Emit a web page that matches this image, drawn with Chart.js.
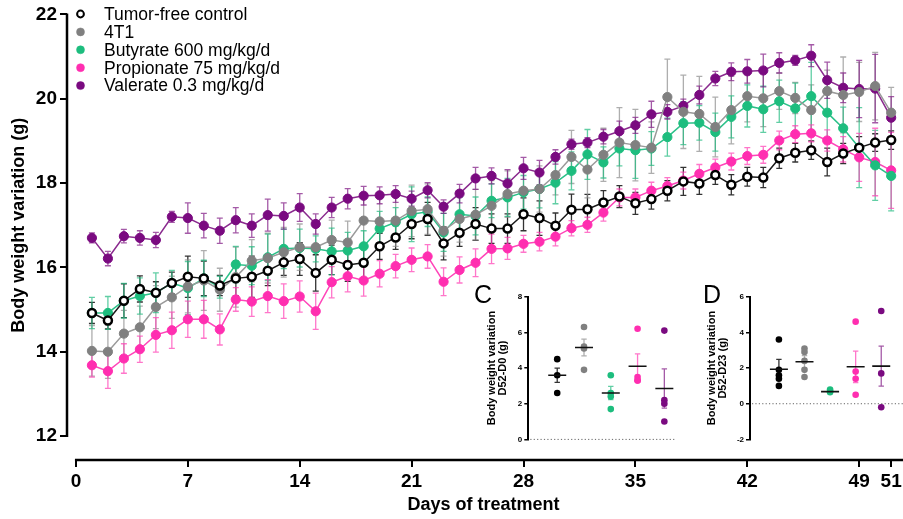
<!DOCTYPE html>
<html>
<head>
<meta charset="utf-8">
<title>Body weight variation</title>
<script src="https://cdn.jsdelivr.net/npm/chart.js@4.4.1/dist/chart.umd.min.js"></script>
<style>
  html, body { margin: 0; padding: 0; background: #fff; overflow: hidden; }
  #wrap { position: relative; width: 960px; height: 519px; }
  canvas { position: absolute; }
  .panel { position: absolute; font: 25px "Liberation Sans", Arial, sans-serif; color: #000; line-height: 1; }
</style>
</head>
<body>
<div id="wrap">
  <canvas id="weightChart" width="960" height="519" style="left:0;top:0"></canvas>
  <canvas id="insetC" width="215" height="170" style="left:472px;top:280px"></canvas>
  <canvas id="insetD" width="240" height="170" style="left:692px;top:280px"></canvas>
  <div class="panel" style="left:474px;top:282px">C</div>
  <div class="panel" style="left:703px;top:282px">D</div>
</div>
<script>
// ---- main panel data (body weight, g, mean and SEM per day) ----
const days = [1, 2, 3, 4, 5, 6, 7, 8, 9, 10, 11, 12, 13, 14, 15, 16, 17, 18, 19, 20,
  21, 22, 23, 24, 25, 26, 27, 28, 29, 30, 31, 32, 33, 34, 35, 36, 37, 38, 39, 40,
  41, 42, 43, 44, 45, 46, 47, 48, 49, 50, 51];
const xTicks = [0, 7, 14, 21, 28, 35, 42, 49, 51];
const yTicks = [12, 14, 16, 18, 20, 22];
const seriesNames = ["Tumor-free control", "4T1", "Butyrate 600 mg/kg/d", "Propionate 75 mg/kg/d", "Valerate 0.3 mg/kg/d"];

const tumorFree = [14.92, 14.74, 15.21, 15.49, 15.40, 15.63, 15.78, 15.74, 15.57, 15.74, 15.78,
  15.92, 16.12, 16.20, 15.87, 16.18, 16.06, 16.11, 16.50, 16.71, 17.03, 17.15,
  16.57, 16.82, 17.03, 16.92, 16.92, 17.26, 17.17, 16.99, 17.37, 17.38,
  17.54, 17.68, 17.52, 17.62, 17.82, 18.04, 17.99, 18.19, 17.96,
  18.15, 18.13, 18.59, 18.72, 18.78, 18.50, 18.70, 18.84, 18.96, 19.02];
const tumorFreeSem = [0.25, 0.2, 0.4, 0.31, 0.26, 0.26, 0.49, 0.41, 0.24, 0.41, 0.49,
  0.35, 0.31, 0.39, 0.43, 0.35, 0.39, 0.45, 0.31, 0.28, 0.35, 0.39,
  0.39, 0.32, 0.39, 0.35, 0.35, 0.39, 0.41, 0.3, 0.37, 0.35,
  0.28, 0.26, 0.26, 0.24, 0.24, 0.33, 0.26, 0.22, 0.24,
  0.22, 0.24, 0.24, 0.22, 0.22, 0.33, 0.24, 0.26, 0.21, 0.22];

const tumor4T1 = [14.02, 14.00, 14.43, 14.58, 15.06, 15.29, 15.55, 15.69, 15.47, 15.77, 16.16,
  16.22, 16.36, 16.48, 16.48, 16.65, 16.59, 17.11, 17.09, 17.11, 17.34, 17.38,
  16.87, 17.15, 17.25, 17.46, 17.74, 17.82, 17.86, 18.19, 18.62, 18.32,
  18.67, 18.96, 18.90, 18.84, 20.04, 19.69, 19.64, 19.33, 19.73,
  20.06, 20.01, 20.18, 20.02, 19.73, 20.18, 20.09, 20.16, 20.30, 19.67];
const tumor4T1Sem = [0.6, 0.63, 0.55, 0.5, 0.51, 0.5, 0.63, 0.71, 0.51, 0.71, 0.5,
  0.59, 0.59, 0.55, 0.63, 0.47, 0.51, 0.63, 0.55, 0.61, 0.61, 0.6,
  0.6, 0.55, 0.6, 0.6, 0.55, 0.55, 0.55, 0.47, 0.63, 0.67,
  0.63, 0.83, 0.85, 0.61, 0.9, 0.87, 0.89, 0.71, 0.8,
  0.61, 0.67, 0.43, 0.37, 0.6, 0.5, 0.9, 0.7, 0.8, 0.6];

const butyrate = [14.92, 14.92, 15.21, 15.32, 15.40, 15.63, 15.51, 15.74, 15.53, 16.07, 16.04,
  16.24, 16.44, 16.46, 16.44, 16.38, 16.40, 16.50, 16.92, 17.07, 17.26, 17.32,
  16.83, 17.26, 17.22, 17.58, 17.66, 17.78, 17.86, 18.01, 18.29, 18.68,
  18.49, 18.82, 18.78, 18.82, 19.09, 19.42, 19.43, 19.21, 19.57,
  19.83, 19.75, 19.94, 19.77, 20.06, 19.67, 19.30, 18.84, 18.42, 18.17];
const butyrateSem = [0.37, 0.39, 0.41, 0.43, 0.47, 0.3, 0.63, 0.43, 0.26, 0.43, 0.45,
  0.55, 0.47, 0.45, 0.31, 0.55, 0.43, 0.37, 0.41, 0.35, 0.65, 0.35,
  0.45, 0.4, 0.45, 0.4, 0.45, 0.4, 0.45, 0.5, 0.45, 0.59,
  0.37, 0.41, 0.67, 0.4, 0.45, 0.51, 0.41, 0.45, 0.5,
  0.5, 0.55, 0.5, 0.6, 0.8, 0.6, 0.5, 0.95, 0.83, 0.83];

const propionate = [13.68, 13.54, 13.84, 14.06, 14.40, 14.51, 14.77, 14.77, 14.53, 15.24, 15.19,
  15.32, 15.20, 15.31, 14.96, 15.65, 15.79, 15.69, 15.85, 16.03, 16.18, 16.26,
  15.66, 15.94, 16.11, 16.44, 16.45, 16.56, 16.61, 16.73, 16.93, 17.01,
  17.30, 17.66, 17.66, 17.82, 17.93, 18.06, 18.22, 18.37, 18.51,
  18.64, 18.67, 19.01, 19.16, 19.18, 19.01, 18.80, 18.61, 18.50, 18.30];
const propionateSem = [0.28, 0.41, 0.35, 0.31, 0.41, 0.43, 0.43, 0.45, 0.37, 0.28, 0.35,
  0.39, 0.41, 0.37, 0.43, 0.37, 0.37, 0.37, 0.31, 0.28, 0.28, 0.28,
  0.33, 0.31, 0.33, 0.35, 0.26, 0.2, 0.22, 0.22, 0.18, 0.18,
  0.2, 0.2, 0.2, 0.2, 0.2, 0.2, 0.22, 0.2, 0.2,
  0.2, 0.2, 0.22, 0.2, 0.2, 0.25, 0.3, 0.57, 0.8, 0.9];

const valerate = [16.70, 16.21, 16.74, 16.70, 16.65, 17.20, 17.17, 16.99, 16.87, 17.12, 16.99,
  17.24, 17.22, 17.42, 17.03, 17.42, 17.63, 17.70, 17.71, 17.74, 17.63, 17.83,
  17.44, 17.75, 18.11, 18.17, 17.99, 18.35, 18.25, 18.62, 18.92, 18.96,
  19.10, 19.23, 19.37, 19.63, 19.69, 19.83, 20.09, 20.48, 20.64,
  20.65, 20.67, 20.85, 20.91, 21.02, 20.44, 20.26, 20.23, 20.24, 19.55];
const valerateSem = [0.12, 0.17, 0.16, 0.17, 0.18, 0.13, 0.36, 0.29, 0.3, 0.3, 0.28,
  0.38, 0.31, 0.33, 0.24, 0.24, 0.24, 0.22, 0.2, 0.2, 0.18, 0.18,
  0.16, 0.22, 0.26, 0.19, 0.33, 0.26, 0.29, 0.17, 0.12, 0.12,
  0.17, 0.24, 0.19, 0.31, 0.17, 0.16, 0.21, 0.17, 0.21,
  0.28, 0.39, 0.24, 0.12, 0.26, 0.43, 0.35, 0.68, 0.81, 0.5];

// ---- inset C: D52-D0, inset D: D52-D23 (individual mice, mean, SEM) ----
const insetCPoints = [[4.5, 3.6, 2.6], [6.3, 5.2, 5.1, 3.9], [3.6, 2.6, 2.4, 1.7], [6.2, 3.5, 3.3, 3.3], [6.1, 2.2, 2.0, 1.0]];
const insetCMean = [3.6, 5.15, 2.6, 4.1, 2.85];
const insetCSem = [0.4, 0.47, 0.37, 0.7, 1.1];
const insetCTicks = [0, 2, 4, 6, 8];

const insetDPoints = [[3.6, 1.9, 1.6, 1.4, 1.0], [3.1, 2.9, 2.4, 1.9, 1.5], [0.8, 0.7, 0.65], [4.6, 1.8, 1.4, 0.5], [5.2, 1.7, -0.2]];
const insetDMean = [1.93, 2.35, 0.68, 2.07, 2.11];
const insetDSem = [0.56, 0.35, 0.05, 0.88, 1.12];
const insetDTicks = [-2, 0, 2, 4, 6];

const pointColors = ["#000000", "#808080", "#1dbd7e", "#ff2eb0", "#7a0a80"];
const lineColors = ["#1a1a1a", "#9a9a9a", "#2cc189", "#ff45b9", "#8a2a8e"];
const barColors = ["rgba(0,0,0,0.8)", "rgba(140,140,140,0.7)", "rgba(30,185,125,0.7)", "rgba(255,60,180,0.7)", "rgba(125,20,130,0.7)"];

const FONT = "'Liberation Sans', Arial, sans-serif";

// vertical SEM bars with caps, drawn under the markers
const errorBars = {
  id: "errorBars",
  beforeDatasetsDraw(chart) {
    const ctx = chart.ctx;
    chart.data.datasets.forEach((ds, i) => {
      if (!ds.errors) return;
      const meta = chart.getDatasetMeta(i);
      const yScale = chart.scales[meta.yAxisID];
      ctx.save();
      ctx.lineWidth = ds.errorWidth || 1.3;
      meta.data.forEach((pt, j) => {
        const v = ds.data[j].y;
        const e = ds.errors[j];
        const top = yScale.getPixelForValue(v + e);
        const bot = yScale.getPixelForValue(v - e);
        const c = ds.capWidth || 3;
        ctx.strokeStyle = Array.isArray(ds.errorColor) ? ds.errorColor[j] : ds.errorColor;
        ctx.beginPath();
        ctx.moveTo(pt.x, top);
        ctx.lineTo(pt.x, bot);
        ctx.moveTo(pt.x - c, top);
        ctx.lineTo(pt.x + c, top);
        ctx.moveTo(pt.x - c, bot);
        ctx.lineTo(pt.x + c, bot);
        ctx.stroke();
      });
      ctx.restore();
    });
  },
};

// offset axis lines, axis titles and the legend of the main panel
const mainDecor = {
  id: "mainDecor",
  afterDraw(chart) {
    const { ctx, chartArea } = chart;
    const x = chart.scales.x;
    const y = chart.scales.y;
    const yLow = y.getPixelForValue(yTicks[0]);
    const yHigh = y.getPixelForValue(yTicks[yTicks.length - 1]);
    ctx.save();
    ctx.strokeStyle = "#000";
    ctx.lineWidth = 2.5;
    ctx.beginPath();
    ctx.moveTo(chartArea.left, yLow + 1);
    ctx.lineTo(chartArea.left, yHigh - 1);
    ctx.moveTo(x.getPixelForValue(xTicks[0]) - 1, chartArea.bottom);
    ctx.lineTo(chart.width, chartArea.bottom);
    ctx.stroke();

    ctx.fillStyle = "#000";
    ctx.textAlign = "center";
    ctx.textBaseline = "middle";
    ctx.font = "bold 18px " + FONT;
    ctx.fillText("Days of treatment", (x.getPixelForValue(0) + x.getPixelForValue(51)) / 2, 505);
    ctx.save();
    ctx.translate(19, (yLow + yHigh) / 2);
    ctx.rotate(-Math.PI / 2);
    ctx.fillText("Body weight variation (g)", 0, 0);
    ctx.restore();

    ctx.textAlign = "left";
    ctx.font = "17.5px " + FONT;
    chart.data.datasets.forEach((ds, i) => {
      const ly = 14 + i * 17.9;
      ctx.beginPath();
      ctx.arc(80.5, ly, i === 0 ? 3.4 : 4, 0, Math.PI * 2);
      ctx.fillStyle = ds.pointBackgroundColor;
      ctx.fill();
      ctx.lineWidth = i === 0 ? 2 : 0.5;
      ctx.strokeStyle = ds.pointBorderColor;
      ctx.stroke();
      ctx.fillStyle = "#000";
      ctx.fillText(ds.label, 104, ly + 1);
    });
    ctx.restore();
  },
};

// dotted zero reference line of the insets
const zeroLine = {
  id: "zeroLine",
  beforeDatasetsDraw(chart) {
    const { ctx, chartArea } = chart;
    const py = chart.scales.y.getPixelForValue(0);
    ctx.save();
    ctx.strokeStyle = "#666";
    ctx.lineWidth = 1;
    ctx.setLineDash([1.2, 2.2]);
    ctx.beginPath();
    ctx.moveTo(chartArea.left + 2, py);
    ctx.lineTo(chartArea.right, py);
    ctx.stroke();
    ctx.restore();
  },
};

const allSeries = [
  [tumorFree, tumorFreeSem],
  [tumor4T1, tumor4T1Sem],
  [butyrate, butyrateSem],
  [propionate, propionateSem],
  [valerate, valerateSem],
];

const mainDatasets = allSeries.map(([vals, sem], i) => ({
  label: seriesNames[i],
  data: vals.map((v, j) => ({ x: days[j], y: v })),
  errors: sem,
  errorColor: barColors[i],
  borderColor: lineColors[i],
  borderWidth: 1.5,
  pointBackgroundColor: i === 0 ? "#ffffff" : pointColors[i],
  pointBorderColor: pointColors[i],
  pointBorderWidth: i === 0 ? 2.5 : 1,
  pointRadius: i === 0 ? 4 : 4.6,
  tension: 0,
}));

new Chart(document.getElementById("weightChart"), {
  type: "line",
  data: { datasets: mainDatasets },
  options: {
    responsive: false,
    animation: false,
    devicePixelRatio: 1,
    layout: { padding: { top: 13, right: 0, bottom: 0, left: 0 } },
    plugins: { legend: { display: false }, tooltip: { enabled: false } },
    scales: {
      x: {
        type: "linear",
        min: -0.559,
        max: 54.9,
        afterFit: (scale) => { scale.height = 59; },
        afterBuildTicks: (scale) => { scale.ticks = xTicks.map((v) => ({ value: v })); },
        border: { display: false },
        grid: { display: true, drawOnChartArea: false, drawTicks: true, tickLength: 7, color: "#000", lineWidth: 2 },
        ticks: { autoSkip: false, maxRotation: 0, padding: 3, color: "#000", font: { family: FONT, size: 19, weight: "bold" } },
      },
      y: {
        min: 11.433,
        max: 22,
        afterFit: (scale) => { scale.width = 67; },
        afterBuildTicks: (scale) => { scale.ticks = yTicks.map((v) => ({ value: v })); },
        border: { display: false },
        grid: { display: true, drawOnChartArea: false, drawTicks: true, tickLength: 7, color: "#000", lineWidth: 2 },
        ticks: { padding: 3, color: "#000", font: { family: FONT, size: 19, weight: "bold" } },
      },
    },
  },
  plugins: [errorBars, mainDecor],
});

function insetChart(id, points, means, sems, yTickVals, xMin, xMax, yWidth, padding, title) {
  const datasets = [{
    label: "mean",
    data: means.map((m, i) => ({ x: i, y: m })),
    errors: sems,
    errorColor: barColors,
    errorWidth: 1.3,
    capWidth: 2.7,
    pointStyle: "line",
    pointRadius: 9,
    pointBorderColor: "#111",
    pointBorderWidth: 1.6,
  }];
  points.forEach((vals, i) => {
    datasets.push({
      label: seriesNames[i],
      data: vals.map((v) => ({ x: i, y: v })),
      pointBackgroundColor: pointColors[i],
      pointBorderColor: pointColors[i],
      pointBorderWidth: 0,
      pointRadius: 3.3,
    });
  });
  return new Chart(document.getElementById(id), {
    type: "scatter",
    data: { datasets },
    options: {
      responsive: false,
      animation: false,
      devicePixelRatio: 1,
      layout: { padding },
      plugins: { legend: { display: false }, tooltip: { enabled: false } },
      scales: {
        x: { type: "linear", min: xMin, max: xMax, display: false },
        y: {
          min: yTickVals[0],
          max: yTickVals[yTickVals.length - 1],
          afterFit: (scale) => { scale.width = yWidth; },
          afterBuildTicks: (scale) => { scale.ticks = yTickVals.map((v) => ({ value: v })); },
          border: { display: true, color: "#000", width: 2 },
          grid: { display: true, drawOnChartArea: false, drawTicks: true, tickLength: 4, color: "#000", lineWidth: 1.5 },
          ticks: { padding: 2, color: "#000", font: { family: FONT, size: 8, weight: "bold" } },
          title: {
            display: true,
            text: title,
            color: "#000",
            padding: { top: 14, bottom: 0 },
            font: { family: FONT, size: 11, weight: "bold", lineHeight: 1.05 },
          },
        },
      },
    },
    plugins: [zeroLine, errorBars],
  });
}

insetChart("insetC", insetCPoints, insetCMean, insetCSem, insetCTicks, -1.08, 4.45, 56.3,
  { top: 16.7, right: 5.3, bottom: 9, left: 0 }, ["Body weight variation", "D52-D0 (g)"]);
insetChart("insetD", insetDPoints, insetDMean, insetDSem, insetDTicks, -1.13, 5.57, 58,
  { top: 16.7, right: 0, bottom: 9.3, left: 0 }, ["Body weight variation", "D52-D23 (g)"]);
</script>
</body>
</html>
